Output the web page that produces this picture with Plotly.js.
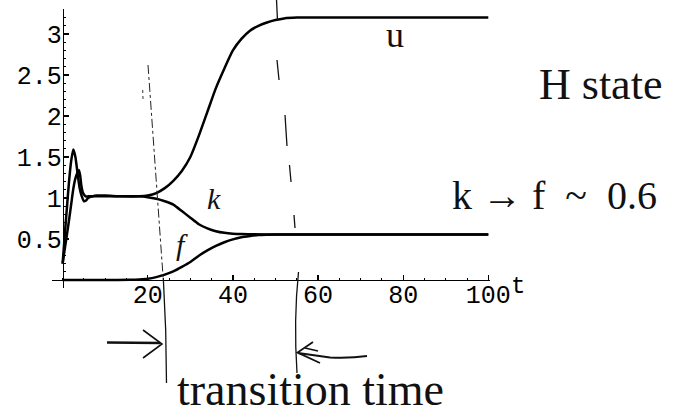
<!DOCTYPE html>
<html>
<head>
<meta charset="utf-8">
<script src="https://cdn.plot.ly/plotly-3.0.1.min.js"></script>
<style>
  html, body { margin: 0; padding: 0; background: #fff; }
  #chart { width: 675px; height: 420px; }
</style>
</head>
<body>
<div id="chart"></div>
<script>
// u(t): early oscillation, plateau near 1, then switch up to ~3.2
const tU = [0, 0.5, 1, 1.5, 2, 2.5, 3, 3.5, 4, 4.5, 5, 5.5, 6, 7, 8, 10, 14, 18, 20, 22, 24, 26, 28, 30, 32, 34, 36, 38, 40, 42, 44, 46, 48, 50, 52, 55, 60, 70, 80, 90, 100];
const uVals = [0.2, 0.55, 0.88, 1.2, 1.45, 1.59, 1.5, 1.3, 1.12, 1.02, 0.96, 0.97, 1.0, 1.02, 1.03, 1.03, 1.02, 1.02, 1.03, 1.06, 1.12, 1.21, 1.33, 1.5, 1.76, 2.05, 2.34, 2.58, 2.8, 2.94, 3.04, 3.1, 3.14, 3.17, 3.19, 3.2, 3.2, 3.2, 3.2, 3.2, 3.2];

// k(t): lagging oscillation, plateau near 1, then relaxes to ~0.56
const tK = [0, 0.5, 1, 1.5, 2, 2.5, 3, 3.5, 3.8, 4.1, 4.4, 4.8, 5.4, 6, 7, 10, 14, 18, 20, 22, 24, 26, 28, 30, 32, 34, 36, 38, 40, 42, 45, 50, 60, 70, 80, 90, 100];
const kVals = [0.2, 0.38, 0.55, 0.73, 0.92, 1.11, 1.24, 1.31, 1.34, 1.28, 1.15, 1.06, 1.02, 1.02, 1.02, 1.02, 1.02, 1.02, 1.01, 0.99, 0.96, 0.92, 0.84, 0.76, 0.68, 0.63, 0.595, 0.575, 0.565, 0.56, 0.557, 0.555, 0.555, 0.555, 0.555, 0.555, 0.555];

// f(t): zero until the switch, then rises to meet k
const tF = [0, 10, 16, 18, 20, 22, 24, 26, 28, 30, 32, 34, 36, 38, 40, 42, 44, 46, 48, 50, 60, 70, 80, 90, 100];
const fVals = [0, 0, 0.002, 0.006, 0.015, 0.035, 0.065, 0.105, 0.16, 0.22, 0.295, 0.36, 0.415, 0.46, 0.495, 0.52, 0.535, 0.547, 0.552, 0.555, 0.555, 0.555, 0.555, 0.555, 0.555];

const xTicks = [20, 40, 60, 80, 100];
const yTicks = [0.5, 1, 1.5, 2, 2.5, 3];

const xRange = [-2.5, 100.4];
const yRange = [-0.098, 3.305];

// plot box in pixels, used to place the pen notes around the figure
const W = 675, H = 420;
const box = { l: 52, r: 490, t: 9, b: 288 };
const PX = x => (x - box.l) / (box.r - box.l);
const PY = y => (box.b - y) / (box.b - box.t);
const pathOf = pts => pts.map((p, i) => (i ? 'L' : 'M') + PX(p[0]).toFixed(4) + ',' + PY(p[1]).toFixed(4)).join(' ');
const qpath = (a, c, b) => 'M' + PX(a[0]) + ',' + PY(a[1]) + ' Q' + PX(c[0]) + ',' + PY(c[1]) + ' ' + PX(b[0]) + ',' + PY(b[1]);

const curve = (x, y) => ({
  x: x, y: y, type: 'scatter', mode: 'lines',
  line: { color: '#000', width: 2.5, shape: 'spline', smoothing: 0.6 },
  hoverinfo: 'skip', showlegend: false
});

const pen = { color: '#111', width: 1.3 };
const shapes = [
  // first transition marker (dash-dot inside, pen line below)
  { type: 'path', xref: 'paper', yref: 'paper', path: pathOf([[148, 65], [163.3, 280]]), line: { color: '#222', width: 1, dash: 'dashdot' } },
  { type: 'path', xref: 'paper', yref: 'paper', path: qpath([163.3, 278], [166.5, 330], [166.5, 383]), line: pen },
  { type: 'path', xref: 'paper', yref: 'paper', path: pathOf([[142.7, 90], [143, 100]]), line: { color: '#333', width: 1, dash: 'dot' } },
  // second transition marker, drawn as broken pen strokes
  { type: 'path', xref: 'paper', yref: 'paper', path:
      pathOf([[276.5, 0], [277.5, 20]]) + ' ' +
      pathOf([[277, 60], [279, 80]]) + ' ' +
      pathOf([[285, 115], [287, 146]]) + ' ' +
      pathOf([[289.5, 165], [291, 182]]) + ' ' +
      pathOf([[294, 215], [295, 228]]), line: pen },
  { type: 'path', xref: 'paper', yref: 'paper', path: qpath([298.5, 272], [293.5, 320], [297, 373]), line: pen },
  // arrow pointing right into the first marker
  { type: 'path', xref: 'paper', yref: 'paper', path: pathOf([[107, 342.5], [160, 343]]), line: { color: '#111', width: 2.6 } },
  { type: 'path', xref: 'paper', yref: 'paper', path: pathOf([[143, 330], [162, 344], [143, 358]]), line: { color: '#111', width: 1.6 } },
  // arrow pointing left into the second marker
  { type: 'path', xref: 'paper', yref: 'paper', path: pathOf([[313, 342], [297.5, 352.5], [320, 363]]), line: { color: '#111', width: 1.8 } },
  { type: 'path', xref: 'paper', yref: 'paper', path: pathOf([[305, 348], [318, 351]]), line: { color: '#111', width: 1.4 } },
  { type: 'path', xref: 'paper', yref: 'paper', path: 'M' + PX(298) + ',' + PY(353) + ' L' + PX(330) + ',' + PY(357.5) + ' Q' + PX(350) + ',' + PY(358.5) + ' ' + PX(367) + ',' + PY(356), line: { color: '#111', width: 2 } }
];

const hand = (size, italic) => ({ family: 'Liberation Serif, serif', size: size, color: '#111', style: italic ? 'italic' : 'normal' });
const note = (text, x, y, size, italic, ref) => ({
  text: text, x: x, y: y, xref: ref ? 'x' : 'paper', yref: ref ? 'y' : 'paper',
  xanchor: 'center', yanchor: 'middle', showarrow: false, font: hand(size, italic)
});

const annotations = [
  note('u', 78, 2.99, 36, false, true),
  note('k', 35.6, 0.99, 30, true, true),
  note('f', 28.1, 0.43, 30, true, true),
  note('H state', PX(600), PY(84), 44, false),
  note('k \u2192 f  ~  0.6', PX(554), PY(195), 40, false),
  note('transition time', PX(310), PY(389), 46, false),
  { text: 't', x: PX(518), y: PY(286), xref: 'paper', yref: 'paper', showarrow: false,
    xanchor: 'center', yanchor: 'middle', font: { family: 'Liberation Mono, monospace', size: 24, color: '#000' } }
];

const tickFont = { family: 'Liberation Mono, monospace', size: 25, color: '#000' };

const layout = {
  width: W, height: H, autosize: false,
  margin: { l: box.l, r: W - box.r, t: box.t, b: H - box.b, pad: 0 },
  paper_bgcolor: '#fff', plot_bgcolor: '#fff',
  showlegend: false,
  xaxis: {
    range: xRange, anchor: 'free', position: (0 - yRange[0]) / (yRange[1] - yRange[0]),
    showgrid: false, zeroline: false, showline: true, linecolor: '#000', linewidth: 1.5,
    tickmode: 'array', tickvals: xTicks, ticks: 'inside', ticklen: 5, tickwidth: 1.2, tickcolor: '#000',
    minor: { dtick: 5, tick0: 0, ticks: 'inside', ticklen: 2, tickwidth: 1, tickcolor: '#000' },
    tickfont: tickFont, ticklabelstandoff: -8, fixedrange: true
  },
  yaxis: {
    range: yRange, anchor: 'free', position: (0 - xRange[0]) / (xRange[1] - xRange[0]),
    showgrid: false, zeroline: false, showline: true, linecolor: '#000', linewidth: 1.5,
    tickmode: 'array', tickvals: yTicks, ticks: 'inside', ticklen: 5, tickwidth: 1.2, tickcolor: '#000',
    minor: { dtick: 0.1, tick0: 0, ticks: 'inside', ticklen: 2, tickwidth: 1, tickcolor: '#000' },
    tickfont: tickFont, ticklabelstandoff: -4, fixedrange: true
  },
  shapes: shapes,
  annotations: annotations
};

Plotly.newPlot('chart', [curve(tF, fVals), curve(tK, kVals), curve(tU, uVals)], layout,
  { staticPlot: true, displayModeBar: false });
</script>
</body>
</html>
